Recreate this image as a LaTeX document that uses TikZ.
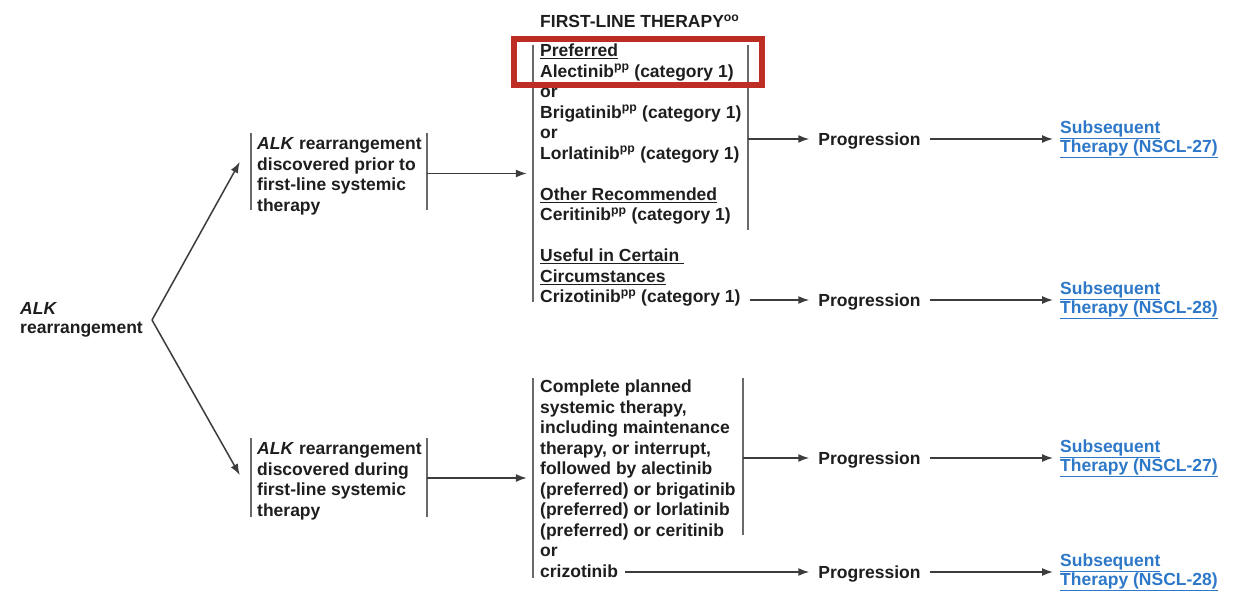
\documentclass[tikz,border=0pt]{standalone}
\usepackage{fontspec}
\setmainfont{Liberation Sans}
\usetikzlibrary{arrows.meta,calc}
\definecolor{txt}{RGB}{30,30,30}
\definecolor{barc}{RGB}{105,105,105}
\definecolor{linec}{RGB}{60,60,60}
\definecolor{linkc}{RGB}{45,120,200}
\definecolor{hl}{RGB}{190,45,35}
\begin{document}
\begin{tikzpicture}[x=1pt,y=-1pt,
  every node/.style={font=\bfseries\fontsize{17.5}{20.5}\selectfont, text=txt},
  txtblk/.style={align=left, inner sep=0pt, anchor=north west},
  lineblk/.style={inner sep=0pt, anchor=base west},
  boxn/.style={rectangle, inner sep=0pt, draw=none},
  bar/.style={draw=barc, line width=1.6pt},
  arr/.style={draw=linec, line width=1.5pt, -{Latex[length=11pt,width=8pt]}},
  prog/.style={inner xsep=9pt, inner ysep=0pt, text height=12.5pt, text depth=0pt, anchor=center},
  link/.style={align=left, inner xsep=7pt, inner ysep=0pt, anchor=west, text=linkc,
    font=\bfseries\fontsize{17.5}{19}\selectfont}]
\fill[white] (0,0) rectangle (1241,599);
\useasboundingbox (0,0) rectangle (1241,599);

% root
\node[anchor=east, align=left, inner xsep=9pt, inner ysep=0pt,
  font=\bfseries\fontsize{17.5}{19.5}\selectfont] (alk) at (152,320) {\textit{ALK}\\rearrangement};

% upper branch
\node[boxn, minimum width=176pt, minimum height=77pt] (A1) at (339,171.5) {};
\node[txtblk] (A1t) at (257,135.15) {\strut\textit{ALK} rearrangement\\discovered prior to\\first-line systemic\\therapy};
\draw[bar] (A1.north west) -- (A1.south west);
\draw[bar] (A1.north east) -- (A1.south east);

\node[lineblk] (title) at (540,28) {FIRST-LINE THERAPY\textsuperscript{oo}};
\node[boxn, minimum width=215pt, minimum height=257pt] (B1) at (640.5,173.5) {};
\node[txtblk] (B1t) at (540,42.15) {\strut\underline{Preferred}\\
Alectinib\textsuperscript{pp} (category 1)\\
or\\
Brigatinib\textsuperscript{pp} (category 1)\\
or\\
Lorlatinib\textsuperscript{pp} (category 1)\\
\mbox{}\\
\underline{Other Recommended}\\
Ceritinib\textsuperscript{pp} (category 1)\\
\mbox{}\\
\underline{Useful in Certain\ }\\
\underline{Circumstances}};
\node[lineblk] (crz) at (540,302.5) {Crizotinib\textsuperscript{pp} (category 1)};
\draw[bar] (B1.north west) -- (B1.south west);
\draw[bar] (B1.north east) -- ($(B1.north east)+(0,185)$);
\draw[hl, line width=6pt] (514,39) rectangle (762,85.5);

\node[prog] (P1) at (869.5,139) {Progression};
\node[link] (S1) at (1053,139) {\underline{Subsequent}\\\underline{Therapy (NSCL-27)}};
\node[prog] (P2) at (869.5,300) {Progression};
\node[link] (S2) at (1053,300) {\underline{Subsequent}\\\underline{Therapy (NSCL-28)}};

% lower branch
\node[boxn, minimum width=176pt, minimum height=79pt] (A2) at (339,477.5) {};
\node[txtblk] (A2t) at (257,440.15) {\strut\textit{ALK} rearrangement\\discovered during\\first-line systemic\\therapy};
\draw[bar] (A2.north west) -- (A2.south west);
\draw[bar] (A2.north east) -- (A2.south east);

\node[boxn, minimum width=210pt, minimum height=200pt] (B2) at (638,478) {};
\node[txtblk] (B2t) at (540,378.15) {\strut Complete planned\\
systemic therapy,\\
including maintenance\\
therapy, or interrupt,\\
followed by alectinib\\
(preferred) or brigatinib\\
(preferred) or lorlatinib\\
(preferred) or ceritinib\\
or};
\node[lineblk] (crz2) at (540,577) {crizotinib};
\draw[bar] (B2.north west) -- (B2.south west);
\draw[bar] (B2.north east) -- ($(B2.north east)+(0,157)$);

\node[prog] (P3) at (869.5,458) {Progression};
\node[link] (S3) at (1053,458) {\underline{Subsequent}\\\underline{Therapy (NSCL-27)}};
\node[prog] (P4) at (869.5,572) {Progression};
\node[link] (S4) at (1053,572) {\underline{Subsequent}\\\underline{Therapy (NSCL-28)}};

% connectors
\draw[arr] (alk.east) -- ($(A1.west)+(-11,-9.5)$);
\draw[arr] (alk.east) -- ($(A2.west)+(-11,-2.5)$);
\draw[arr, shorten >=6pt] (A1.east |- B1.west) -- (B1.west);
\draw[arr, shorten >=6pt] (A2.east |- B2.west) -- (B2.west);
\draw[arr] (B1.east |- P1.west) -- (P1.west);
\draw[arr] (P1.east) -- (S1.west);
\draw[arr] ($(crz.east |- P2.west)+(9,0)$) -- (P2.west);
\draw[arr] (P2.east) -- (S2.west);
\draw[arr] (B2.east |- P3.west) -- (P3.west);
\draw[arr] (P3.east) -- (S3.west);
\draw[arr] ($(crz2.east |- P4.west)+(7,0)$) -- (P4.west);
\draw[arr] (P4.east) -- (S4.west);
\end{tikzpicture}
\end{document}
